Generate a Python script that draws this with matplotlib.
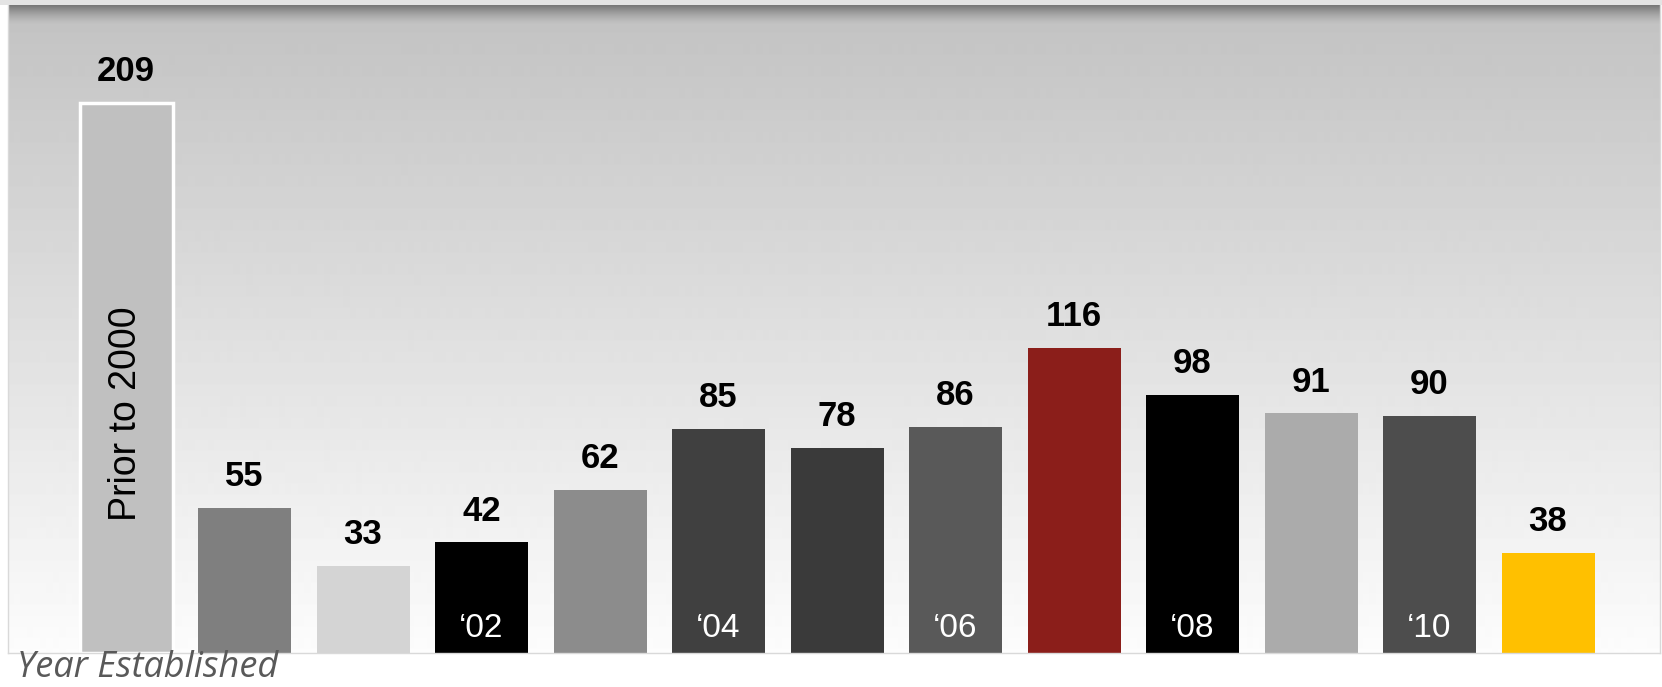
import numpy as np
from matplotlib import pyplot as plt
from matplotlib.patches import Rectangle

values = [209, 55, 33, 42, 62, 85, 78, 86, 116, 98, 91, 90, 38]
colors = ['#c0c0c0', '#7f7f7f', '#d4d4d4', '#000000', '#8c8c8c', '#404040', '#3a3a3a',
          '#595959', '#8b1e1a', '#000000', '#ababab', '#4d4d4d', '#ffc000']
year_labels = {3: '\u201802', 5: '\u201804', 7: '\u201806', 9: '\u201808', 11: '\u201810'}
first_label = 'Prior to 2000'
x_title = 'Year Established'

W, H = 1662, 687
fig = plt.figure(figsize=(W / 100, H / 100), dpi=100)
fig.patch.set_facecolor('white')

top_px, bot_px, left_px, right_px = 5, 653, 8, 1660
ax = fig.add_axes([left_px / W, (H - bot_px) / H, (right_px - left_px) / W, (bot_px - top_px) / H])

# background: shadow under top strip, then grey -> white gradient
rows = np.arange(bot_px - top_px, dtype=float)
base = 0.765 + (0.99 - 0.765) * np.clip((rows - 15) / (len(rows) - 15), 0, 1)
shadow = np.clip(1 - rows / 20.0, 0, 1) ** 1.5
grad = base * (1 - shadow) + 0.47 * shadow
ax.imshow(grad[:, None], cmap='gray', vmin=0, vmax=1, aspect='auto',
          extent=[-0.996, 12.945, 0, 246.2], zorder=0, origin='upper')

x = np.arange(len(values))
bars = ax.bar(x, values, width=0.785, color=colors, zorder=2)
bars[0].set_edgecolor('white')
bars[0].set_linewidth(2.5)

for xi, v in zip(x, values):
    ax.text(xi, v + 8.3, str(v), ha='center', va='baseline', fontsize=25,
            fontweight='bold', family='Liberation Sans', color='black', zorder=3)

for i, lab in year_labels.items():
    ax.text(i, 6.1, lab, ha='center', va='baseline', fontsize=24,
            family='Liberation Sans', color='white', zorder=3)

ax.text(0, 91, first_label, ha='center', va='center', rotation=90, fontsize=27,
        family='Liberation Sans', color='black', zorder=3)

ax.set_xlim(-0.996, 12.945)
ax.set_ylim(0, 246.2)
ax.set_xticks([])
ax.set_yticks([])
ax.spines['top'].set_visible(False)
for s in ['left', 'bottom', 'right']:
    ax.spines[s].set_color('#d9d9d9')
    ax.spines[s].set_linewidth(1)

# light strip at the very top
fig.patches.append(Rectangle((0, 1 - top_px / H), 1, top_px / H, transform=fig.transFigure,
                             facecolor='#e4e4e4', edgecolor='none'))

fig.text(17 / W, 1 - 677 / H, x_title, fontsize=26, style='italic',
         family='Open Sans', color='#595959', ha='left', va='baseline')

plt.savefig('out.png', dpi=100)
